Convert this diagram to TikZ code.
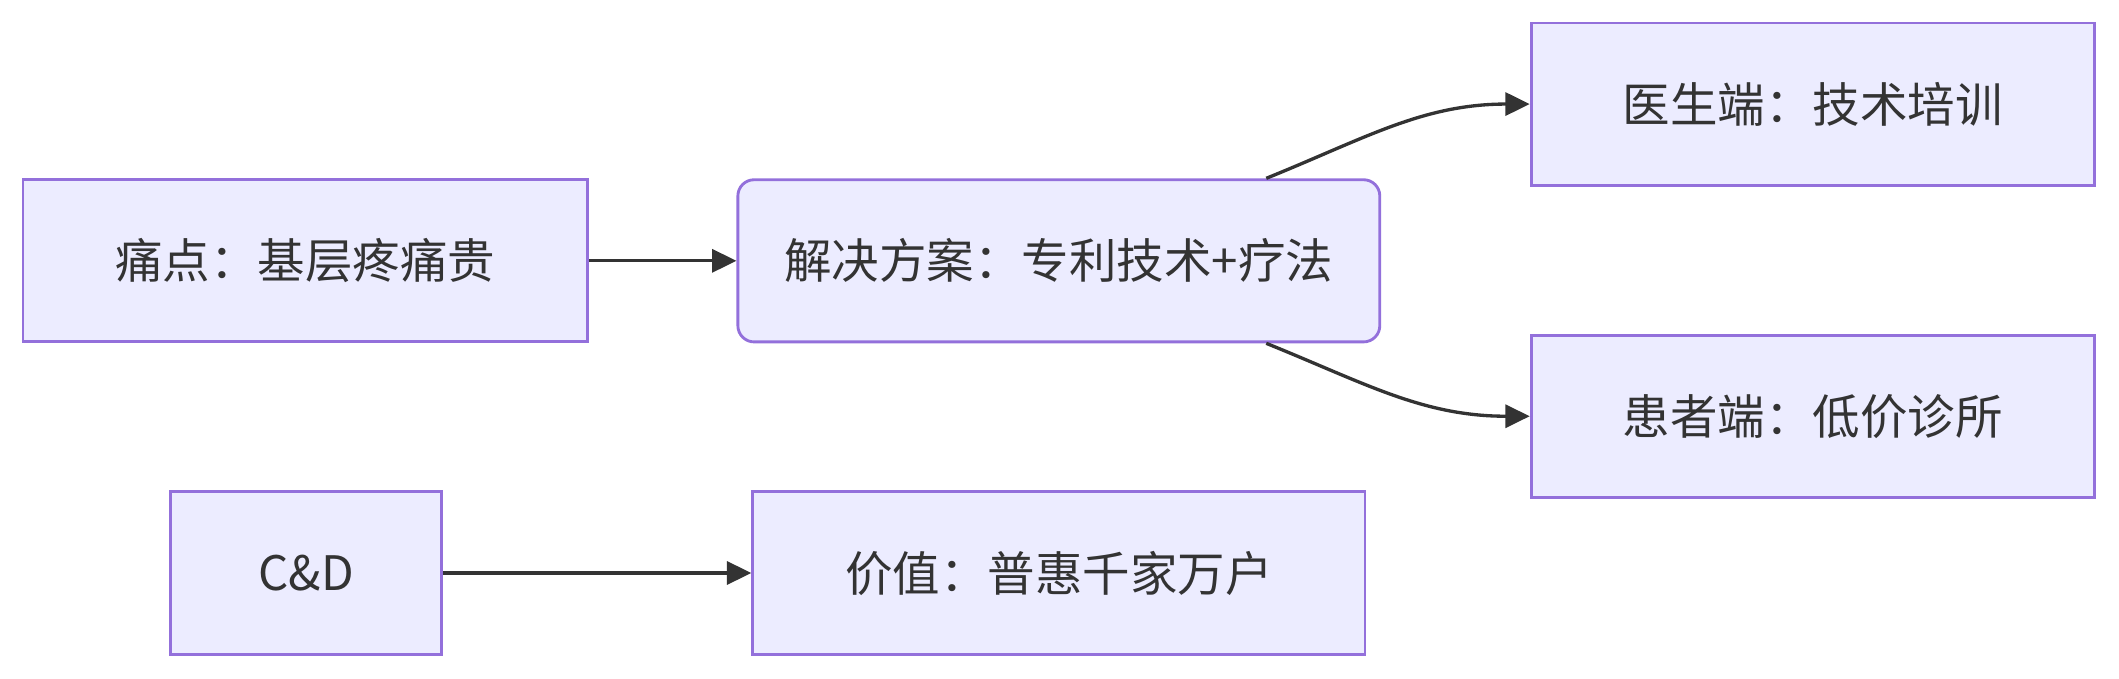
\documentclass[tikz,border=0pt]{standalone}
\usepackage{fontspec}
\setmainfont{Noto Sans CJK SC}
\usetikzlibrary{positioning, arrows.meta}

\definecolor{boxfill}{HTML}{ECECFF}
\definecolor{boxline}{HTML}{9370DB}
\definecolor{inkgray}{HTML}{333333}

\begin{document}
\begin{tikzpicture}[
    box/.style={rectangle, draw=boxline, fill=boxfill, line width=0.6pt, minimum height=1.2cm, text=inkgray, font=\fontsize{10}{12}\selectfont, inner sep=0pt},
    roundbox/.style={box, rounded corners=0.12cm},
    flow/.style={-{Triangle[length=0.18cm, width=0.17cm]}, draw=inkgray, line width=0.7pt}
]

\useasboundingbox (0,0) rectangle (15.68,5.02);

% === Top row ===
\node[box, minimum width=4.18cm] (pain) at (2.26, 3.09) {痛点：基层疼痛贵};
\node[roundbox, minimum width=4.75cm] (solution) at (7.835, 3.09) {解决方案：专利技术+疗法};

% === Right column ===
\node[box, minimum width=4.17cm] (doctor) at (13.415, 4.25) {医生端：技术培训};
\node[box, minimum width=4.17cm] (patient) at (13.415, 1.94) {患者端：低价诊所};

% === Bottom row ===
\node[box, minimum width=2.01cm] (cd) at (2.265, 0.78) {C\&D};
\node[box, minimum width=4.53cm] (value) at (7.835, 0.78) {价值：普惠千家万户};

% === Connectors ===
\coordinate (soltop) at ([xshift=1.535cm]solution.north);
\coordinate (solbot) at ([xshift=1.535cm]solution.south);

\draw[flow] (pain) -- (solution);
\draw[flow] (soltop) to[out=22, in=180] (doctor.west);
\draw[flow] (solbot) to[out=-22, in=180] (patient.west);
\draw[flow] (cd) -- (value);

\end{tikzpicture}
\end{document}
